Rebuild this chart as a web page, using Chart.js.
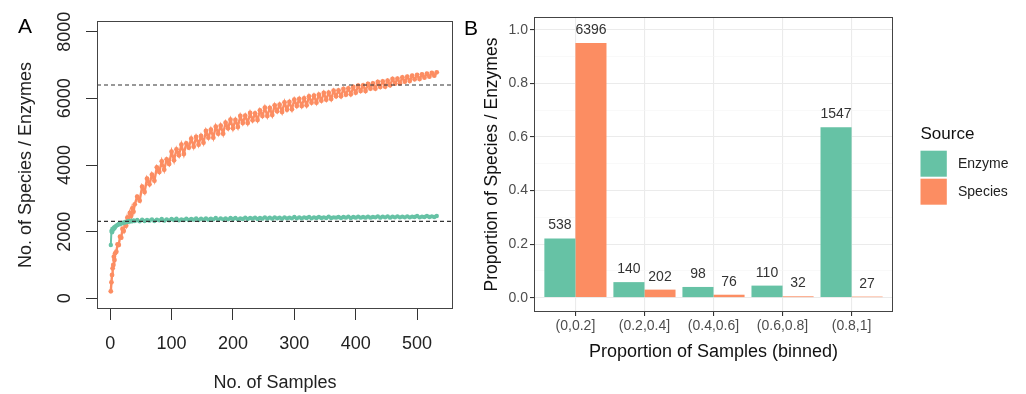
<!DOCTYPE html>
<html><head><meta charset="utf-8">
<script src="https://cdn.jsdelivr.net/npm/chart.js@4.4.1/dist/chart.umd.min.js"></script>
<style>
html,body{margin:0;padding:0;background:#fff;}
body{width:1026px;height:394px;position:relative;overflow:hidden;font-family:"Liberation Sans",Arial,sans-serif;}
#pa{position:absolute;left:0;top:0;width:460px;height:394px;}
#pb{position:absolute;left:460px;top:0;width:566px;height:394px;}
.tag{position:absolute;font-size:21px;line-height:1;color:#000;}
</style></head><body>
<div id="pa"><canvas id="ca"></canvas></div>
<div id="pb"><canvas id="cb"></canvas></div>
<div class="tag" style="left:18px;top:15px">A</div>
<div class="tag" style="left:464px;top:17px">B</div>
<script>
const FONT = '"Liberation Sans", Arial, sans-serif';
const GREEN = '#66c2a5', ORANGE = '#fc8d62';

// ---- Panel A data: accumulation curves ----
const samples = [
  1,2,3,4,5,6,7,8,10,12,14,16,18,20,22,24,26,28,30,32,34,36,38,40,
  44,48,52,56,60,64,68,72,76,80,84,88,92,96,100,
  104,108,112,116,120,124,128,132,136,140,144,148,152,156,160,164,168,172,176,180,184,188,192,196,200,
  204,208,212,216,220,224,228,232,236,240,244,248,252,256,260,264,268,272,276,280,284,288,292,296,300,
  304,308,312,316,320,324,328,332,336,340,344,348,352,356,360,364,368,372,376,380,384,388,392,396,400,
  404,408,412,416,420,424,428,432,436,440,444,448,452,456,460,464,468,472,476,480,484,488,492,496,500,
  504,508,512,516,520,524,528,532
];
const speciesCounts = [
  210,480,700,900,1000,1250,1150,1350,1400,1620,1600,1850,1820,2080,2020,2250,2180,2420,2330,2560,2470,2700,2600,2820,
  3050,2930,3350,3190,3590,3420,3710,3530,3930,3790,4110,3860,4170,4030,4400,
  4140,4470,4290,4610,4330,4650,4520,4790,4550,4840,4610,4870,4670,5020,4820,5060,4820,5150,4940,5180,4940,5270,5100,5360,5100,
  5350,5140,5470,5260,5480,5260,5560,5340,5550,5350,5640,5470,5720,5470,5710,5500,5790,5610,5810,5590,5880,5660,5890,5670,5960,
  5770,5980,5770,6000,5790,6060,5870,6080,5870,6110,5930,6160,5960,6170,5980,6230,6060,6240,6060,6280,6110,6300,6120,6340,6170,
  6380,6220,6390,6220,6430,6290,6450,6290,6490,6340,6510,6350,6530,6390,6580,6440,6590,6450,6630,6500,6650,6520,6680,6570,6700,
  6580,6720,6620,6740,6650,6760,6680,6780
];
const enzymeCounts = [
  1600,2020,1980,2080,2060,2120,2100,2150,2180,2200,2230,2220,2260,2250,2280,2270,2300,2290,2320,2300,2330,2310,2340,2320,
  2350,2310,2360,2320,2350,2330,2370,2320,2360,2340,2380,2330,2370,2340,2380,
  2350,2390,2340,2370,2350,2390,2350,2380,2360,2400,2350,2390,2360,2400,2360,2390,2370,2410,2360,2400,2370,2400,2370,2410,2380,
  2410,2370,2400,2380,2420,2380,2410,2390,2420,2380,2410,2390,2430,2390,2420,2390,2430,2400,2420,2390,2430,2400,2420,2400,2440,
  2400,2430,2400,2430,2410,2440,2400,2430,2410,2440,2410,2430,2410,2450,2410,2430,2420,2440,2410,2440,2420,2450,2410,2440,2420,
  2450,2420,2440,2420,2450,2420,2440,2430,2460,2420,2450,2430,2460,2420,2450,2430,2460,2430,2450,2430,2460,2430,2450,2440,2470,
  2430,2450,2440,2470,2440,2460,2440,2470
];
const refLines = [6400, 2310];
const xTicksA = [0, 100, 200, 300, 400, 500];
const yTicksA = [0, 2000, 4000, 6000, 8000];

// ---- Panel B data: binned proportions ----
const binLabels = ['(0,0.2]','(0.2,0.4]','(0.4,0.6]','(0.6,0.8]','(0.8,1]'];
const enzymeProp = [0.221, 0.058, 0.040, 0.045, 0.636];
const speciesProp = [0.950, 0.030, 0.011, 0.005, 0.004];
const enzymeBinCounts = [538, 140, 98, 110, 1547];
const speciesBinCounts = [6396, 202, 76, 32, 27];

Chart.defaults.font.family = FONT;

const boxPlugin = {
  id: 'panelBox',
  afterDraw(chart, args, opts) {
    const {ctx, chartArea: a} = chart;
    ctx.save();
    ctx.strokeStyle = opts.color || '#333';
    ctx.lineWidth = opts.width || 1;
    ctx.strokeRect(Math.round(a.left) + 0.5, Math.round(a.top) + 0.5,
      Math.round(a.right - a.left) - 1, Math.round(a.bottom - a.top) - 1);
    ctx.restore();
  }
};

// ---------------- Panel A ----------------
const XA_MIN = -21.5, XA_MAX = 558.5;
const dsA = refLines.map(v => ({
  type: 'line',
  data: [{x: XA_MIN, y: v}, {x: XA_MAX, y: v}],
  borderColor: '#333', borderWidth: 1.1, borderDash: [4, 3],
  pointRadius: 0, order: 0
}));
dsA.push({
  label: 'Enzyme',
  data: samples.map((s, i) => ({x: s, y: enzymeCounts[i]})),
  backgroundColor: GREEN, borderColor: GREEN, showLine: true, borderWidth: 2,
  pointRadius: 2.2, pointBorderWidth: 0, order: 1
});
dsA.push({
  label: 'Species',
  data: samples.map((s, i) => ({x: s, y: speciesCounts[i]})),
  backgroundColor: ORANGE, borderColor: ORANGE, showLine: true, borderWidth: 2.4,
  pointRadius: 2.4, pointBorderWidth: 0, order: 2
});

new Chart(document.getElementById('ca'), {
  type: 'scatter',
  data: {datasets: dsA},
  options: {
    responsive: true, maintainAspectRatio: false, animation: false, devicePixelRatio: 1,
    layout: {padding: {top: 21, right: 7, left: 0, bottom: 0}},
    plugins: {legend: {display: false}, tooltip: {enabled: false}, panelBox: {color: '#444', width: 1}},
    scales: {
      x: {
        type: 'linear', min: XA_MIN, max: XA_MAX,
        afterBuildTicks: s => { s.ticks = xTicksA.map(v => ({value: v})); },
        ticks: {maxRotation: 0, color: '#222', font: {size: 18}, padding: 13, callback: v => String(v)},
        grid: {drawOnChartArea: false, drawTicks: true, tickLength: 11, tickColor: '#333', tickWidth: 1},
        border: {display: false},
        title: {display: true, text: 'No. of Samples', color: '#222', font: {size: 18}, padding: {top: 0, bottom: 0}},
        afterFit: s => { s.height = 85; }
      },
      y: {
        type: 'linear', min: -320, max: 8320,
        afterBuildTicks: s => { s.ticks = yTicksA.map(v => ({value: v})); },
        ticks: {minRotation: 90, maxRotation: 90, crossAlign: 'center',
                color: '#222', font: {size: 18}, padding: 1, callback: v => String(v)},
        grid: {drawOnChartArea: false, drawTicks: true, tickLength: 11, tickColor: '#333', tickWidth: 1},
        border: {display: false},
        title: {display: true, text: 'No. of Species / Enzymes', color: '#222', font: {size: 18}, padding: {top: 15, bottom: 0}},
        afterFit: s => { s.width = 97; }
      }
    }
  },
  plugins: [boxPlugin]
});

// ---------------- Panel B ----------------
const isMajor = v => Math.round(v * 10) % 2 === 0;

const labelPlugin = {
  id: 'barLabels',
  afterDatasetsDraw(chart) {
    const {ctx} = chart;
    ctx.save();
    ctx.font = '14px ' + FONT;
    ctx.fillStyle = '#333';
    ctx.textAlign = 'center';
    ctx.textBaseline = 'alphabetic';
    chart.data.datasets.forEach((ds, di) => {
      const meta = chart.getDatasetMeta(di);
      meta.data.forEach((el, j) => {
        ctx.fillText(String(ds.counts[j]), el.x, el.y - 9);
      });
    });
    ctx.restore();
  }
};

const legendPlugin = {
  id: 'sourceLegend',
  afterDraw(chart) {
    const {ctx} = chart;
    const x0 = 460.5;
    ctx.save();
    ctx.fillStyle = '#111';
    ctx.font = '17px ' + FONT;
    ctx.textAlign = 'left';
    ctx.textBaseline = 'alphabetic';
    ctx.fillText('Source', x0, 138.5);
    const items = chart.data.datasets;
    const tops = [150.7, 178.7];
    ctx.font = '14px ' + FONT;
    ctx.textBaseline = 'middle';
    items.forEach((ds, i) => {
      ctx.fillStyle = ds.backgroundColor;
      ctx.fillRect(x0, tops[i], 26.3, 26);
      ctx.fillStyle = '#222';
      ctx.fillText(ds.label, 498, tops[i] + 13.5);
    });
    ctx.restore();
  }
};

new Chart(document.getElementById('cb'), {
  type: 'bar',
  data: {
    datasets: [
      {label: 'Enzyme', data: enzymeProp.map((v, i) => ({x: i + 1, y: v})), backgroundColor: GREEN, counts: enzymeBinCounts},
      {label: 'Species', data: speciesProp.map((v, i) => ({x: i + 1, y: v})), backgroundColor: ORANGE, counts: speciesBinCounts}
    ]
  },
  options: {
    responsive: true, maintainAspectRatio: false, animation: false, devicePixelRatio: 1,
    layout: {padding: {top: 17, right: 133, left: 0, bottom: 0}},
    datasets: {bar: {categoryPercentage: 0.9, barPercentage: 1, borderWidth: 0}},
    plugins: {legend: {display: false}, tooltip: {enabled: false}, panelBox: {color: '#444', width: 1}},
    scales: {
      x: {
        type: 'linear', offset: false, min: 0.4, max: 5.6,
        ticks: {stepSize: 1, includeBounds: false, autoSkip: false, maxRotation: 0, color: '#4d4d4d',
                font: {size: 14}, padding: 2, callback: v => binLabels[Math.round(v) - 1] ?? ''},
        grid: {offset: false, color: '#ebebeb', lineWidth: 1.1, tickLength: 4, tickColor: '#333'},
        border: {display: false},
        title: {display: true, text: 'Proportion of Samples (binned)', color: '#111', font: {size: 18}, padding: {top: 0, bottom: 31}},
        afterFit: s => { s.height = 82; }
      },
      y: {
        type: 'linear', min: -0.0535, max: 1.0475,
        ticks: {stepSize: 0.1, includeBounds: false, color: '#4d4d4d', font: {size: 14}, padding: 2,
                callback: v => isMajor(v) ? Number(v).toFixed(1) : ''},
        grid: {
          color: c => isMajor(c.tick.value) ? '#ebebeb' : '#f5f5f5',
          lineWidth: c => isMajor(c.tick.value) ? 1.1 : 0.6,
          tickLength: 4,
          tickColor: c => isMajor(c.tick.value) ? '#333' : 'rgba(0,0,0,0)'
        },
        border: {display: false},
        title: {display: true, text: 'Proportion of Species / Enzymes', color: '#111', font: {size: 17.5}, padding: {top: 21.5, bottom: 0}},
        afterFit: s => { s.width = 74; }
      }
    }
  },
  plugins: [boxPlugin, labelPlugin, legendPlugin]
});
</script>
</body></html>
